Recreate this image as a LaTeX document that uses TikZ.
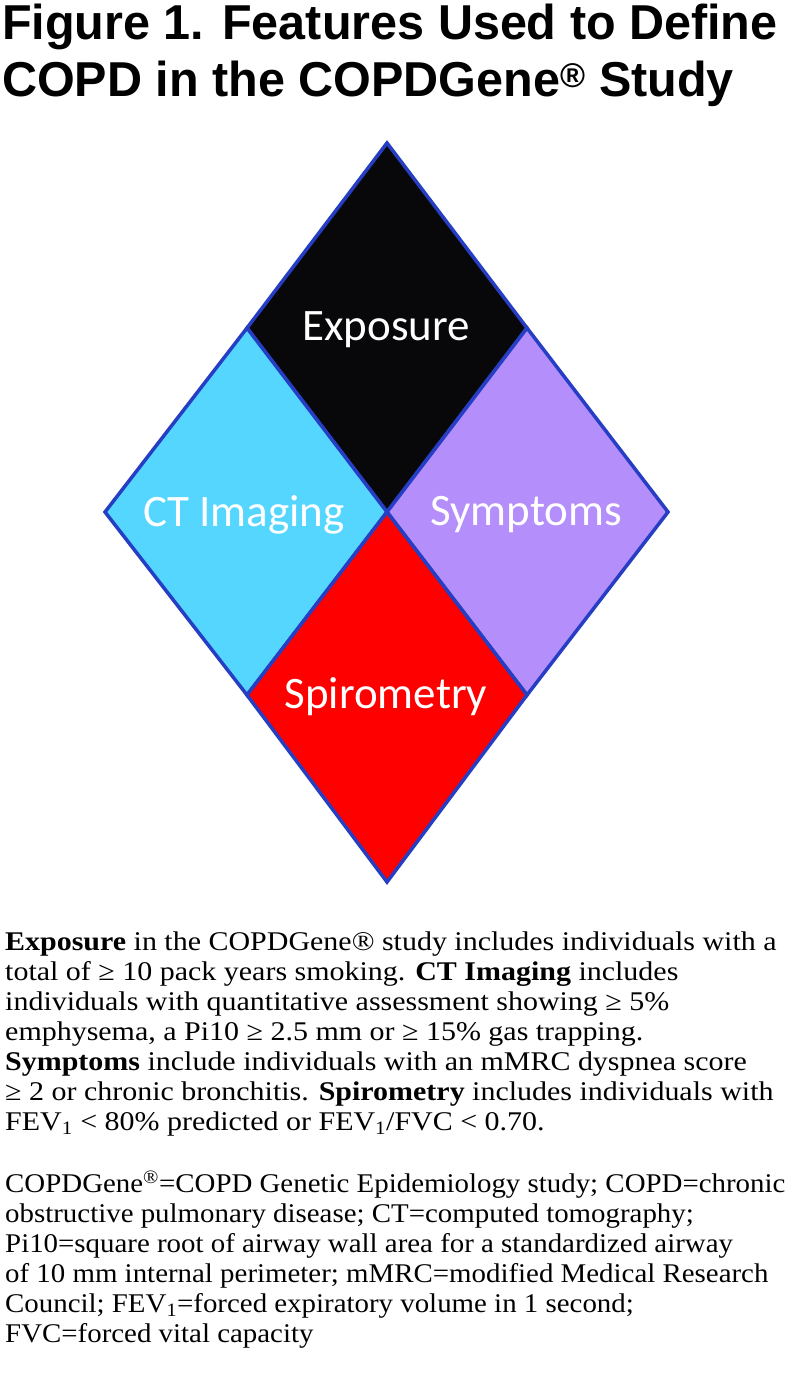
\documentclass[tikz,border=0pt]{standalone}
\usepackage{fontspec}
\setmainfont{Liberation Serif}
\newfontfamily\headfont[FakeStretch=0.99]{Liberation Sans}
\newfontfamily\notefont[FakeStretch=1.11]{Liberation Serif}
\newfontfamily\abbrfont[FakeStretch=1.07]{Liberation Serif}
\newfontfamily\petalfont{Carlito}
\usetikzlibrary{positioning}
\definecolor{rimblue}{RGB}{38,62,196}
\definecolor{exposeblack}{RGB}{8,8,10}
\definecolor{ctcyan}{RGB}{84,214,255}
\definecolor{symplilac}{RGB}{180,142,250}
\definecolor{spirored}{RGB}{255,0,0}

\begin{document}
\begin{tikzpicture}[x=1pt,y=-1pt,
  petal/.style={draw=rimblue,line width=3.5pt,line join=miter},
  tag/.style={font=\petalfont\fontsize{45}{54}\selectfont,text=white,inner sep=0pt},
  head/.style={anchor=base west,inner sep=0pt,font=\headfont\bfseries\fontsize{49}{57}\selectfont},
  para/.style={anchor=north west,inner sep=0pt,align=left}]
\useasboundingbox (0,0) rectangle (800,1380);
% title
\node[head] (head1) at (2,40) {Figure 1. Features Used to Define};
\node[head] (head2) at (2,97) {COPD in the COPDGene\textsuperscript{®} Study};
% rhombus corners
\coordinate (top) at (387,143);
\coordinate (ul) at (247,328);
\coordinate (ur) at (527,328);
\coordinate (mid) at (387,512);
\coordinate (lt) at (105,512);
\coordinate (rt) at (668,512);
\coordinate (ll) at (247,695);
\coordinate (lr) at (527,695);
\coordinate (bot) at (387,882);
\filldraw[petal,fill=exposeblack] (top) -- (ur) -- (mid) -- (ul) -- cycle;
\filldraw[petal,fill=ctcyan] (ul) -- (mid) -- (ll) -- (lt) -- cycle;
\filldraw[petal,fill=symplilac] (ur) -- (rt) -- (lr) -- (mid) -- cycle;
\filldraw[petal,fill=spirored] (mid) -- (lr) -- (bot) -- (ll) -- cycle;
\node[tag] (exposure) at (386,330) {Exposure};
\node[tag] (ctimaging) at (244,515) {CT Imaging};
\node[tag] (symptoms) at (526,515) {Symptoms};
\node[tag] (spirometry) at (386,697) {Spirometry};
% caption
\node[para,font=\notefont\fontsize{27}{30}\selectfont] (legend) at (5,932) {\textbf{Exposure} in the COPDGene® study includes individuals with a\\
total of ≥ 10 pack years smoking. \textbf{CT Imaging} includes\\
individuals with quantitative assessment showing ≥ 5\%\\
emphysema, a Pi10 ≥ 2.5 mm or ≥ 15\% gas trapping.\\
\textbf{Symptoms} include individuals with an mMRC dyspnea score\\
≥ 2 or chronic bronchitis. \textbf{Spirometry} includes individuals with\\
FEV\textsubscript{1} < 80\% predicted or FEV\textsubscript{1}/FVC < 0.70.};
\node[para,font=\abbrfont\fontsize{27}{30}\selectfont] (abbrev) at (5,1171) {COPDGene\textsuperscript{®}=COPD Genetic Epidemiology study; COPD=chronic\\
obstructive pulmonary disease; CT=computed tomography;\\
Pi10=square root of airway wall area for a standardized airway\\
of 10 mm internal perimeter; mMRC=modified Medical Research\\
Council; FEV\textsubscript{1}=forced expiratory volume in 1 second;\\
FVC=forced vital capacity};
\end{tikzpicture}
\end{document}
